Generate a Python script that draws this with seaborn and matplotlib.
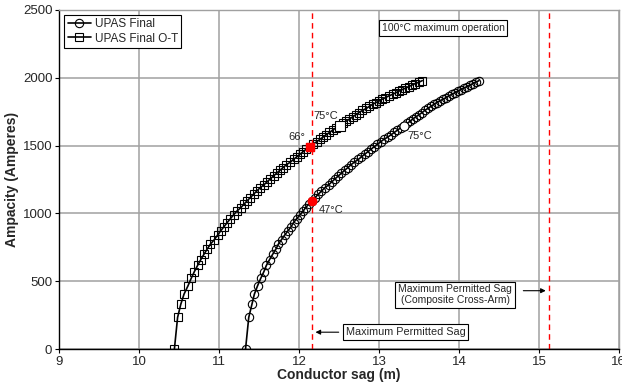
import matplotlib
matplotlib.use("Agg")
import matplotlib.pyplot as plt
import seaborn as sns

# conductor temperature (degC) for each computed point
temps = [25, 26, 27, 28, 29, 30, 31, 32, 33, 34, 35, 36, 37, 38, 39, 40, 41, 42, 43, 44,
         45, 46, 47, 48, 49, 50, 51, 52, 53, 54, 55, 56, 57, 58, 59, 60, 61, 62, 63, 64,
         65, 66, 67, 68, 69, 70, 71, 72, 73, 74, 75, 76, 77, 78, 79, 80, 81, 82, 83, 84,
         85, 86, 87, 88, 89, 90, 91, 92, 93, 94, 95, 96, 97, 98, 99, 100]

# ampacity (A), same for both cases
ampacity = [0, 233, 330, 404, 466, 521, 571, 616, 659, 699, 737, 773, 807, 840, 872, 902,
            932, 961, 989, 1016, 1042, 1068, 1093, 1117, 1141, 1165, 1188, 1211, 1233, 1255,
            1276, 1297, 1318, 1338, 1359, 1378, 1398, 1417, 1436, 1455, 1474, 1492, 1510, 1528,
            1546, 1563, 1580, 1597, 1614, 1631, 1648, 1664, 1680, 1696, 1712, 1728, 1744, 1759,
            1774, 1790, 1805, 1817, 1830, 1842, 1854, 1866, 1878, 1890, 1902, 1913, 1924, 1935,
            1946, 1957, 1968, 1979]

# sag (m) - UPAS Final
final_sag = [11.33, 11.37, 11.41, 11.44, 11.48, 11.52, 11.56, 11.59, 11.63, 11.67, 11.71,
             11.74, 11.78, 11.82, 11.86, 11.90, 11.93, 11.97, 12.01, 12.05, 12.08, 12.12,
             12.16, 12.20, 12.24, 12.28, 12.32, 12.37, 12.41, 12.45, 12.49, 12.53, 12.57,
             12.61, 12.65, 12.69, 12.74, 12.78, 12.82, 12.86, 12.90, 12.94, 12.98, 13.02,
             13.06, 13.11, 13.15, 13.19, 13.23, 13.27, 13.31, 13.35, 13.39, 13.42, 13.46,
             13.50, 13.54, 13.57, 13.61, 13.65, 13.69, 13.72, 13.76, 13.80, 13.84, 13.87,
             13.91, 13.95, 13.99, 14.02, 14.06, 14.10, 14.14, 14.17, 14.21, 14.25]

# sag (m) - UPAS Final O-T
final_ot_sag = [10.44, 10.48, 10.52, 10.56, 10.61, 10.65, 10.69, 10.73, 10.77, 10.81, 10.85,
                10.89, 10.94, 10.98, 11.02, 11.06, 11.10, 11.14, 11.18, 11.22, 11.27, 11.31,
                11.35, 11.39, 11.43, 11.47, 11.51, 11.56, 11.60, 11.64, 11.68, 11.72, 11.76,
                11.80, 11.84, 11.89, 11.93, 11.97, 12.01, 12.05, 12.09, 12.13, 12.17, 12.22,
                12.26, 12.30, 12.34, 12.38, 12.42, 12.46, 12.51, 12.55, 12.59, 12.63, 12.67,
                12.71, 12.75, 12.79, 12.84, 12.88, 12.92, 12.96, 13.00, 13.04, 13.08, 13.12,
                13.17, 13.21, 13.25, 13.29, 13.33, 13.37, 13.41, 13.45, 13.50, 13.54]

max_sag = 12.16
max_sag_composite = 15.13

sns.set_style("white")
plt.rcParams['font.family'] = ['Liberation Sans', 'DejaVu Sans']

fig = plt.figure(figsize=(6.22, 3.89), dpi=100)
ax = fig.add_axes([0.0953, 0.1028, 0.8997, 0.8715])

# grid
ax.set_axisbelow(True)
ax.grid(True, color='#a0a0a0', linewidth=1.1)

sns.lineplot(x=final_sag, y=ampacity, sort=False, estimator=None, ax=ax, color='black',
             linewidth=1.2, marker='o', markersize=6, markerfacecolor='none',
             markeredgecolor='black', markeredgewidth=0.8, label='UPAS Final')
sns.lineplot(x=final_ot_sag, y=ampacity, sort=False, estimator=None, ax=ax, color='black',
             linewidth=1.2, marker='s', markersize=6, markerfacecolor='none',
             markeredgecolor='black', markeredgewidth=0.8, label='UPAS Final O-T')

# highlighted points
i47 = temps.index(47)
i66 = temps.index(66)
i75 = temps.index(75)
ax.plot(final_sag[i47], ampacity[i47], 'o', color='red', markersize=6,
        markeredgecolor='red', zorder=5)
ax.plot(final_ot_sag[i66], ampacity[i66], 's', color='red', markersize=6,
        markeredgecolor='red', zorder=5)
ax.plot(final_sag[i75], ampacity[i75], 'o', color='white', markersize=6.5,
        markeredgecolor='black', markeredgewidth=0.8, zorder=5)
ax.plot(final_ot_sag[i75], ampacity[i75], 's', color='white', markersize=6.5,
        markeredgecolor='black', markeredgewidth=0.8, zorder=5)

ax.text(12.18, 1718, '75°C', fontsize=8, va='center', ha='left')
ax.text(11.87, 1561, '66°', fontsize=8, va='center', ha='left')
ax.text(13.36, 1571, '75°C', fontsize=8, va='center', ha='left')
ax.text(12.24, 1025, '47°C', fontsize=8, va='center', ha='left')

# permitted sag lines
ax.axvline(max_sag, color='red', linestyle=(0, (4, 3)), linewidth=1.0)
ax.axvline(max_sag_composite, color='red', linestyle=(0, (4, 3)), linewidth=1.0)

box = dict(boxstyle='square,pad=0.25', facecolor='white', edgecolor='black', linewidth=0.8)
ax.text(13.8, 2367, '100°C maximum operation', fontsize=7.5, ha='center', va='center', bbox=box)
ax.text(13.33, 124, 'Maximum Permitted Sag', fontsize=7.8, ha='center', va='center', bbox=box)
ax.annotate('', xy=(12.17, 124), xytext=(12.53, 124),
            arrowprops=dict(arrowstyle='-|>', color='black', linewidth=0.8, mutation_scale=7))
ax.text(13.95, 400, 'Maximum Permitted Sag\n(Composite Cross-Arm)', fontsize=7.5,
        ha='center', va='center', bbox=box, linespacing=1.1)
ax.annotate('', xy=(15.12, 430), xytext=(14.77, 430),
            arrowprops=dict(arrowstyle='-|>', color='black', linewidth=0.8, mutation_scale=7))

ax.set_xlim(9, 16)
ax.set_ylim(0, 2500)
ax.set_xticks(range(9, 17))
ax.set_yticks(range(0, 2501, 500))
ax.tick_params(axis='both', labelsize=9.5, direction='out', length=3, width=0.8,
               left=True, bottom=True, color='black', pad=2)
ax.set_xlabel('Conductor sag (m)', fontsize=10, fontweight='bold', labelpad=0)
ax.set_ylabel('Ampacity (Amperes)', fontsize=10, fontweight='bold', labelpad=3)

for side in ['left', 'bottom']:
    ax.spines[side].set_color('black')
    ax.spines[side].set_linewidth(1.0)
for side in ['top', 'right']:
    ax.spines[side].set_color('#a0a0a0')
    ax.spines[side].set_linewidth(1.0)

leg = ax.legend(loc='upper left', fontsize=8.5, frameon=True, fancybox=False,
                edgecolor='black', framealpha=1, borderaxespad=0.4, handlelength=2.0,
                borderpad=0.3, labelspacing=0.2, handletextpad=0.3)
leg.get_frame().set_linewidth(0.8)

fig.savefig('out.png', dpi=100)
